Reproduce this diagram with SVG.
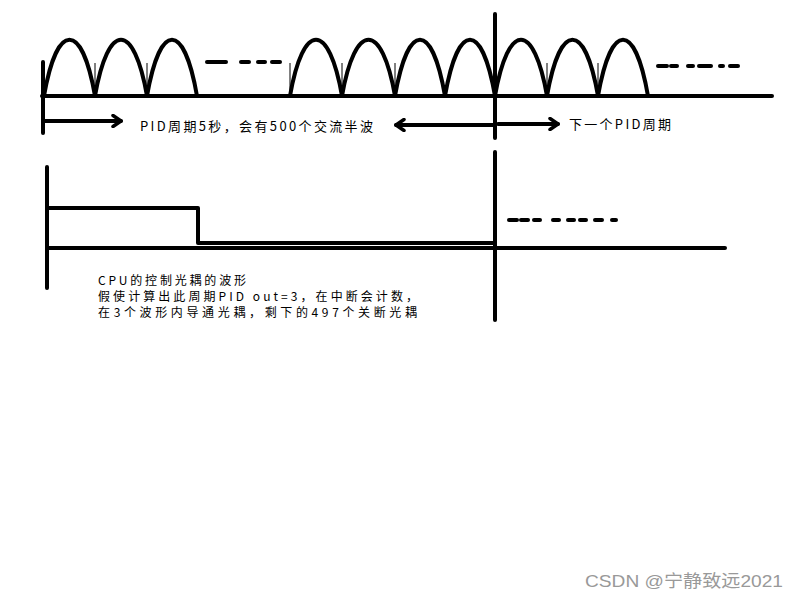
<svg xmlns="http://www.w3.org/2000/svg" width="800" height="600" viewBox="0 0 800 600">
<defs>
<style>
.th{stroke:#000;stroke-width:4;fill:none;stroke-linecap:round;stroke-linejoin:round}
.tk{stroke:#000;stroke-width:1;fill:none}
.hm{stroke:#000;stroke-width:4;fill:none;stroke-linejoin:round}
.ds{stroke:#000;stroke-width:4;stroke-linecap:round}
.t{font-family:"SimSun","Noto Sans CJK SC","Liberation Mono",monospace;font-size:13px;fill:#000}
.tb{font-family:"SimSun","Noto Sans CJK SC","Liberation Mono",monospace;font-size:12px;fill:#000}
.wm{font-family:"Liberation Sans","Noto Sans CJK SC",sans-serif;font-size:17px;fill:#999}
</style>
<marker id="ah" viewBox="0 0 12 14" refX="10" refY="7" markerWidth="12" markerHeight="14" markerUnits="userSpaceOnUse" orient="auto">
<polyline points="2,1.5 10,7 2,12.5" fill="none" stroke="#000" stroke-width="3.5" stroke-linecap="round" stroke-linejoin="round"/>
</marker>
</defs>
<rect width="800" height="600" fill="#fff"/>

<g id="ac-waveform">
<line class="th" x1="42" y1="96" x2="772" y2="96"/>
<line class="th" x1="43" y1="62" x2="43" y2="133"/>
<line class="th" x1="495" y1="14" x2="495" y2="138"/>
<path class="hm" d="M44,96 C57,21 82,21 95,96 C108,21 134,21 147,96 C160,21 184,21 197,96"/>
<path class="hm" d="M290,96 C303,21 329,21 342,96 C355,21 382,21 395,96 C408,21 432,21 445,96 C458,21 482,21 495,96"/>
<path class="hm" d="M495,96 C508,21 534,21 547,96 C560,21 585,21 598,96 C611,21 635,21 648,96"/>
<g>
<line class="tk" x1="95" y1="63" x2="95" y2="96"/>
<line class="tk" x1="147" y1="63" x2="147" y2="96"/>
<line class="tk" x1="290" y1="63" x2="290" y2="96"/>
<line class="tk" x1="342" y1="63" x2="342" y2="96"/>
<line class="tk" x1="395" y1="63" x2="395" y2="96"/>
<line class="tk" x1="547" y1="63" x2="547" y2="96"/>
<line class="tk" x1="598" y1="63" x2="598" y2="96"/>
</g>
<g>
<line class="ds" x1="207" y1="62" x2="226" y2="62"/>
<line class="ds" x1="241" y1="62" x2="249" y2="62"/>
<line class="ds" x1="258" y1="62" x2="265" y2="62"/>
<line class="ds" x1="272" y1="62" x2="280" y2="62"/>
<line class="ds" x1="658" y1="66" x2="667" y2="66"/>
<line class="ds" x1="671" y1="66" x2="677" y2="66"/>
<line class="ds" x1="688" y1="66" x2="693" y2="66"/>
<line class="ds" x1="699" y1="66" x2="711" y2="66"/>
<line class="ds" x1="720" y1="66" x2="723" y2="66"/>
<line class="ds" x1="730" y1="66" x2="738" y2="66"/>
</g>
</g>

<g id="connectors">
<line class="th" x1="44" y1="121" x2="121" y2="121" marker-end="url(#ah)"/>
<line class="th" x1="494" y1="125" x2="396" y2="125" marker-end="url(#ah)"/>
<line class="th" x1="498" y1="124" x2="558" y2="124" marker-end="url(#ah)"/>
</g>

<g id="labels-top">
<text class="t" x="140" y="131" textLength="233" lengthAdjust="spacing">PID周期5秒，会有500个交流半波</text>
<text class="t" x="569" y="129" textLength="102" lengthAdjust="spacing">下一个PID周期</text>
</g>

<g id="cpu-waveform">
<line class="th" x1="47" y1="167" x2="47" y2="288"/>
<line class="th" x1="47" y1="248" x2="725" y2="248"/>
<line class="th" x1="495" y1="152" x2="495" y2="320"/>
<polyline class="th" points="49,208 198,208 198,243 495,243"/>
<g>
<line class="ds" x1="509" y1="220" x2="517" y2="220"/>
<line class="ds" x1="521" y1="220" x2="528" y2="220"/>
<line class="ds" x1="534" y1="220" x2="540" y2="220"/>
<line class="ds" x1="553" y1="220" x2="559" y2="220"/>
<line class="ds" x1="568" y1="220" x2="574" y2="220"/>
<line class="ds" x1="580" y1="220" x2="586" y2="220"/>
<line class="ds" x1="595" y1="220" x2="602" y2="220"/>
<line class="ds" x1="612" y1="220" x2="616" y2="220"/>
</g>
</g>

<g id="labels-bottom">
<text class="tb" x="98" y="285" textLength="148" lengthAdjust="spacing">CPU的控制光耦的波形</text>
<text class="tb" x="98" y="301" textLength="320" lengthAdjust="spacing">假使计算出此周期PID out=3，在中断会计数，</text>
<text class="tb" x="98" y="317" textLength="319" lengthAdjust="spacing">在3个波形内导通光耦，剩下的497个关断光耦</text>
</g>

<g id="watermark">
<text class="wm" x="585" y="587" textLength="198" lengthAdjust="spacingAndGlyphs">CSDN @宁静致远2021</text>
</g>
</svg>
